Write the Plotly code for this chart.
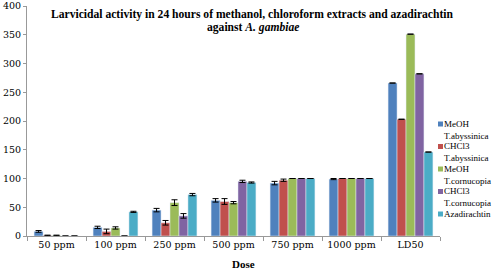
import plotly.graph_objects as go

categories = ["50 ppm", "100 ppm", "250 ppm", "500 ppm", "750 ppm", "1000 ppm", "LD50"]
series_names = ["MeOH<br>T.abyssinica", "CHCl3<br>T.abyssinica", "MeOH<br>T.cornucopia",
                "CHCl3<br>T.cornucopia", "Azadirachtin"]
meoh_tab = [8, 15, 45, 62, 92, 99, 266]
chcl3_tab = [1, 8, 23, 60, 97, 100, 203]
meoh_tc = [1, 14, 58, 58, 100, 100, 351]
chcl3_tc = [0, 0, 35, 95, 100, 100, 282]
aza = [0, 42, 72, 93, 100, 100, 146]
err_meoh_tab = [1.5, 2, 3, 3, 3, 1, 0]
err_chcl3_tab = [0.5, 4, 4, 5, 2, 0, 0]
err_meoh_tc = [0.5, 2, 5, 2, 0, 0, 0]
err_chcl3_tc = [0, 0, 4, 2, 0, 0, 0]
err_aza = [0, 1, 2, 1, 0, 0, 0]
colors = ["#4F81BD", "#C0504D", "#9BBB59", "#8064A2", "#4BACC6"]

title_line1 = "<b>Larvicidal activity in 24 hours of methanol, chloroform extracts and azadirachtin</b>"
title_line2 = "<b>against <i>A. gambiae</i></b>"
x_title = "<b>Dose</b>"

values = [meoh_tab, chcl3_tab, meoh_tc, chcl3_tc, aza]
errors = [err_meoh_tab, err_chcl3_tab, err_meoh_tc, err_chcl3_tc, err_aza]

W, H = 500, 275
L, R, T, B = 27, 60, 6, 39
pw, ph = W - L - R, H - T - B


def px_x(x):
    return (x - L) / pw


def px_y(y):
    return (H - B - y) / ph


fig = go.Figure()
for name, v, e, c in zip(series_names, values, errors, colors):
    fig.add_trace(go.Bar(
        x=categories, y=v, name=name, marker_color=c, showlegend=False,
        hoverinfo="skip",
        error_y=dict(type="data", array=[x if x > 0 else None for x in e], visible=True,
                     color="black", thickness=1, width=3),
    ))

serif = "Liberation Serif"
tickserif = "DejaVu Serif"

shapes = []
annotations = []
# compact legend at the right
leg_x = 438
leg_y0 = 124
step = 22.5
for i, (name, c) in enumerate(zip(series_names, colors)):
    yc = leg_y0 + i * step
    shapes.append(dict(type="rect", xref="paper", yref="paper",
                       x0=px_x(leg_x), x1=px_x(leg_x + 5),
                       y0=px_y(yc + 2.5), y1=px_y(yc - 2.5),
                       fillcolor=c, line=dict(width=0)))
    annotations.append(dict(text=name, xref="paper", yref="paper",
                            x=px_x(leg_x + 5), y=px_y(yc - 6.5),
                            xanchor="left", yanchor="top", align="left",
                            showarrow=False, borderpad=0,
                            font=dict(family=serif, size=9, color="black")))

annotations.append(dict(text=title_line1, xref="paper", yref="paper",
                        x=px_x(252.5), y=px_y(14), xanchor="center", yanchor="middle",
                        showarrow=False, borderpad=0,
                        font=dict(family=serif, size=11.6, color="black")))
annotations.append(dict(text=title_line2, xref="paper", yref="paper",
                        x=px_x(252.5), y=px_y(27), xanchor="center", yanchor="middle",
                        showarrow=False, borderpad=0,
                        font=dict(family=serif, size=11.6, color="black")))
annotations.append(dict(text=x_title, xref="paper", yref="paper",
                        x=px_x(243), y=px_y(264), xanchor="center", yanchor="middle",
                        showarrow=False, borderpad=0,
                        font=dict(family=serif, size=11, color="black")))

fig.update_layout(
    width=W, height=H,
    margin=dict(l=L, r=R, t=T, b=B, autoexpand=False),
    paper_bgcolor="white", plot_bgcolor="white",
    barmode="group", bargap=0.24, bargroupgap=0.0,
    font=dict(family=serif, size=10, color="black"),
    showlegend=False, hovermode=False,
    shapes=shapes,
    annotations=annotations,
    xaxis=dict(showline=True, linecolor="#999999", linewidth=1, automargin=False,
               ticks="outside", tickson="boundaries", ticklen=4, tickcolor="#999999",
               showgrid=False, tickfont=dict(family=tickserif, size=9.5)),
    yaxis=dict(range=[0, 400], dtick=50, showline=True, linecolor="#999999", linewidth=1,
               automargin=False,
               ticks="outside", ticklen=3, tickcolor="#999999", showgrid=False,
               zeroline=False, tickfont=dict(family=tickserif, size=9.5)),
)
fig.write_html("out.html",
               config={"displayModeBar": False, "staticPlot": True},
               post_script="document.body.style.margin='0';document.body.style.overflow='hidden';")
